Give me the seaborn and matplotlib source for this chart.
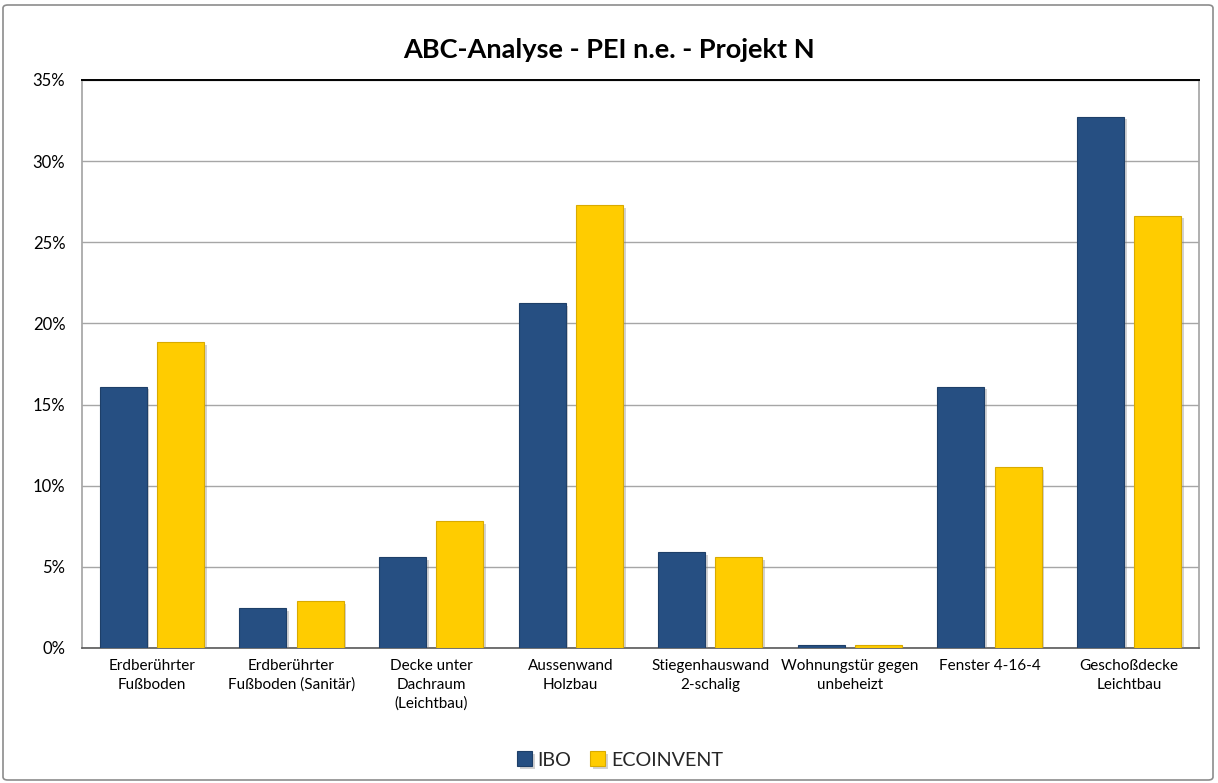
import matplotlib
matplotlib.use("Agg")
import matplotlib.pyplot as plt
import matplotlib.patheffects as pe
from matplotlib.patches import FancyBboxPatch
from matplotlib.ticker import PercentFormatter, MultipleLocator
import seaborn as sns
import pandas as pd

categories = [
    "Erdberührter\nFußboden",
    "Erdberührter\nFußboden (Sanitär)",
    "Decke unter\nDachraum\n(Leichtbau)",
    "Aussenwand\nHolzbau",
    "Stiegenhauswand\n2-schalig",
    "Wohnungstür gegen\nunbeheizt",
    "Fenster 4-16-4",
    "Geschoßdecke\nLeichtbau",
]
ibo = [16.1, 2.45, 5.6, 21.25, 5.9, 0.2, 16.1, 32.75]
ecoinvent = [18.85, 2.9, 7.8, 27.3, 5.6, 0.2, 11.15, 26.65]
series_names = ["IBO", "ECOINVENT"]
title = "ABC-Analyse - PEI n.e. - Projekt N"

df = pd.DataFrame({
    "Kategorie": categories * 2,
    "Wert": ibo + ecoinvent,
    "Serie": [series_names[0]] * len(categories) + [series_names[1]] * len(categories),
})

sns.set_theme(style="white")
plt.rcParams["font.family"] = ["Lato", "DejaVu Sans"]

fig = plt.figure(figsize=(12.18, 7.83), dpi=100)
ax = fig.add_axes([82 / 1218, 1 - 648 / 783, (1199 - 82) / 1218, (648 - 80) / 783])

palette = {"IBO": "#264F82", "ECOINVENT": "#FFCC00"}
sns.barplot(data=df, x="Kategorie", y="Wert", hue="Serie", palette=palette,
            order=categories, hue_order=series_names, width=0.82, gap=0.18,
            saturation=1, ax=ax, legend=True, zorder=3)

for p in ax.patches:
    fc = matplotlib.colors.to_hex(p.get_facecolor()).lower()
    p.set_edgecolor("#1E3F68" if fc == "#264f82" else "#D9AA00")
    p.set_linewidth(0.8)
    p.set_path_effects([pe.SimplePatchShadow(offset=(2, -2), alpha=0.35, shadow_rgbFace="#808080"), pe.Normal()])

ax.set_ylim(0, 35)
ax.yaxis.set_major_locator(MultipleLocator(5))
ax.yaxis.set_major_formatter(PercentFormatter(decimals=0))
ax.grid(axis="y", color="#A6A6A6", linewidth=1.0, zorder=0)
ax.set_axisbelow(True)
ax.set_xlabel("")
ax.set_ylabel("")
ax.tick_params(axis="y", length=0, pad=12, labelsize=12, labelcolor="#000000")
ax.tick_params(axis="x", length=0, pad=8, labelsize=11, labelcolor="#000000")
for lbl in ax.get_xticklabels():
    lbl.set_linespacing(1.4)

ax.spines["top"].set_color("#000000")
ax.spines["top"].set_linewidth(1.4)
ax.spines["left"].set_color("#A6A6A6")
ax.spines["right"].set_color("#A6A6A6")
ax.spines["bottom"].set_color("#595959")
ax.spines["bottom"].set_linewidth(1.2)

fig.text(0.5, 1 - 50 / 783, title, ha="center", va="center",
         fontsize=19.5, fontweight="bold", color="#000000")

leg = ax.legend(loc="center", bbox_to_anchor=(0.5 + 11 / 1218, 1 - 760 / 783), bbox_transform=fig.transFigure,
                ncol=2, frameon=False, fontsize=14.2, handlelength=0.75, handleheight=0.75,
                handletextpad=0.3, columnspacing=0.95)

fig.patches.append(FancyBboxPatch((3 / 1218, 3 / 783), 1 - 8 / 1218, 1 - 8 / 783,
                                  boxstyle="round,pad=0,rounding_size=0.004",
                                  transform=fig.transFigure, fill=False,
                                  edgecolor="#8C8C8C", linewidth=1.2))

fig.savefig("out.png", dpi=100)
